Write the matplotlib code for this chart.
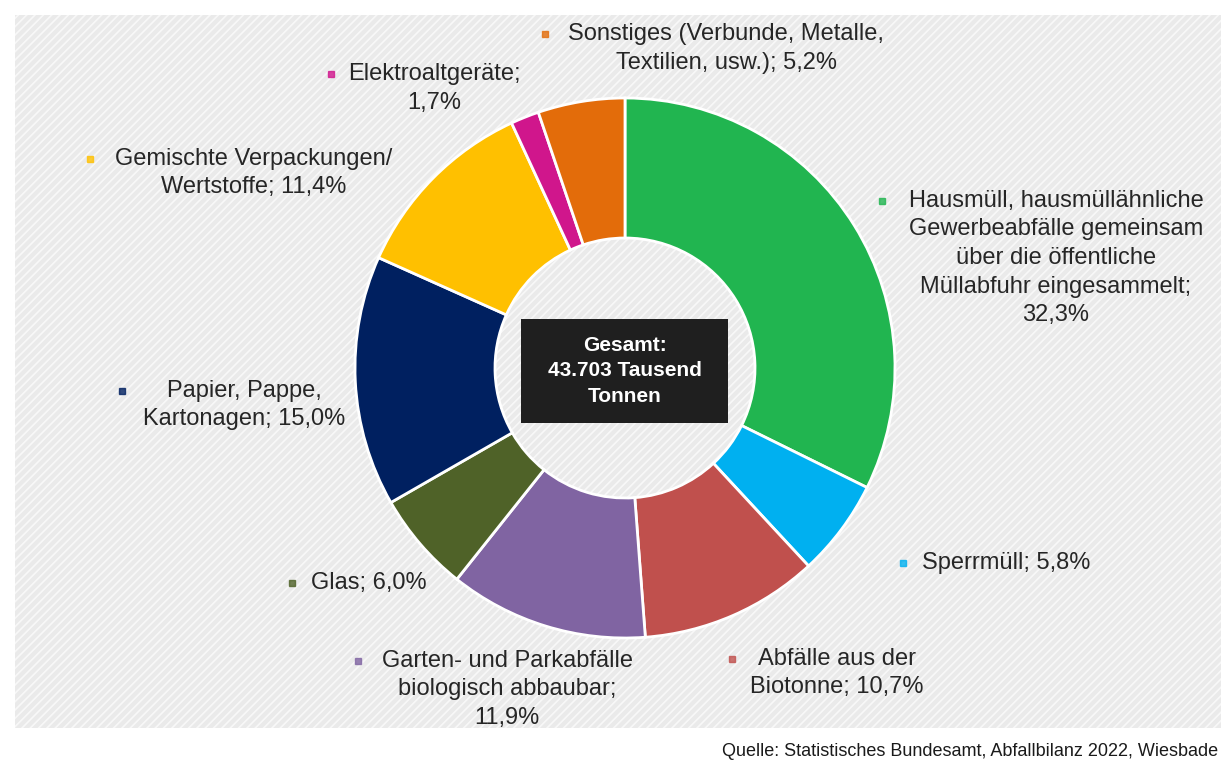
import matplotlib.pyplot as plt
from matplotlib.patches import Rectangle

plt.rcParams['font.family'] = ['Liberation Sans', 'DejaVu Sans']
plt.rcParams['hatch.linewidth'] = 1.2

# Anteile am Haushaltsabfall 2022 (im Uhrzeigersinn ab 12 Uhr)
categories = [
    'Hausmüll, hausmüllähnliche\nGewerbeabfälle gemeinsam\nüber die öffentliche\nMüllabfuhr eingesammelt;\n32,3%',
    'Sperrmüll; 5,8%',
    'Abfälle aus der\nBiotonne; 10,7%',
    'Garten- und Parkabfälle\nbiologisch abbaubar;\n11,9%',
    'Glas; 6,0%',
    'Papier, Pappe,\nKartonagen; 15,0%',
    'Gemischte Verpackungen/\nWertstoffe; 11,4%',
    'Elektroaltgeräte;\n1,7%',
    'Sonstiges (Verbunde, Metalle,\nTextilien, usw.); 5,2%',
]
shares = [32.3, 5.8, 10.7, 11.9, 6.0, 15.0, 11.4, 1.7, 5.2]
colors = ['#21b550', '#00b0f0', '#c0504d', '#8064a2', '#4f6228',
          '#002060', '#ffc000', '#d0168c', '#e36c0a']
total_text = 'Gesamt:\n43.703 Tausend\nTonnen'
source_text = 'Quelle: Statistisches Bundesamt, Abfallbilanz 2022, Wiesbade'

W, H = 1221, 766
LINE = 28.5  # px between label lines

# label layout in pixel coords (x text centre, y first line, marker x)
label_pos = [
    (1056, 201, 882),
    (1006, 563, 903),
    (837, 659, 732),
    (507, 661, 358),
    (369, 583, 292),
    (244, 391, 122),
    (254, 159, 90),
    (434, 74, 331),
    (726, 34, 545),
]

fig = plt.figure(figsize=(W / 100, H / 100), dpi=100)
ax = fig.add_axes([0, 0, 1, 1])

# hatched background panel
ax.add_patch(Rectangle((15, H - 728), W - 15, 728 - 15, facecolor='#eaeaea',
                       edgecolor='#f8f8f8', hatch='////', linewidth=0, zorder=0))

ax.pie(shares, colors=colors, startangle=90, counterclock=False,
       radius=270, center=(625, H - 368),
       wedgeprops=dict(width=140, edgecolor='white', linewidth=2))

# center box
ax.add_patch(Rectangle((521, H - 423), 207, 104, facecolor='#1f1f1f',
                       edgecolor='none', zorder=3))
ax.text(625, H - 371, total_text, ha='center', va='center', color='white',
        fontsize=15, fontweight='bold', linespacing=1.45, zorder=4)

for label, color, (tx, ty, mx) in zip(categories, colors, label_pos):
    for i, line in enumerate(label.split('\n')):
        ax.text(tx, H - ty - i * LINE, line, ha='center', va='center',
                fontsize=17, color='#262626')
    ax.plot(mx, H - ty, marker='s', markersize=5, color=color, alpha=0.8)

ax.text(1218, H - 752, source_text, ha='right', va='center', fontsize=13,
        color='#1a1a1a')

ax.set_xlim(0, W)
ax.set_ylim(0, H)
ax.set_aspect('auto')
ax.axis('off')

fig.savefig('out.png', dpi=100, facecolor='white')
